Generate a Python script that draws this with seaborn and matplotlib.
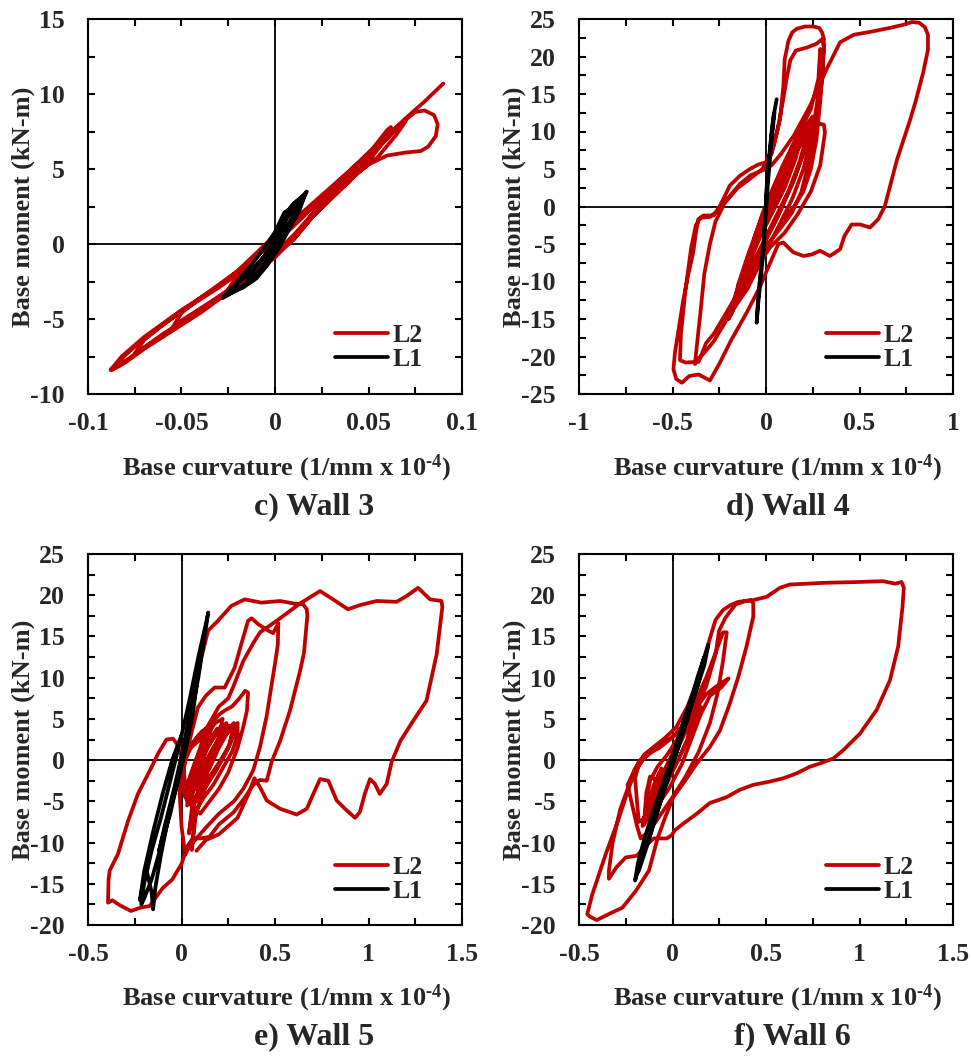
import matplotlib
matplotlib.use("Agg")
import matplotlib.pyplot as plt
import seaborn as sns
from matplotlib.ticker import MultipleLocator, FuncFormatter

# ---------------- data (curvature 1/mm x 1e-4, moment kN-m) ----------------
series_names = ["L2", "L1"]
panel_titles = ["c) Wall 3", "d) Wall 4", "e) Wall 5", "f) Wall 6"]
x_label = r"Base curvature (1/mm x 10$^{\text{-4}}$)"
y_label = "Base moment (kN-m)"

w3_L2 = [(0,0),(0.01,1.2),(0.02,2.4),(0.025,3.0),(0.02,2.0),(0.01,0.6),(0,-0.6),(-0.01,-1.5),(-0.02,-2.5),(-0.025,-3.0),
         (-0.02,-2.1),(-0.01,-0.9),(0,0.4),(0.01,1.3),(0.02,2.5),(0.03,3.6),(0.04,4.7),(0.045,5.2),(0.04,4.2),(0.03,3.0),
         (0.02,1.8),(0.01,0.3),(0,-0.6),(-0.01,-1.5),(-0.02,-2.6),(-0.03,-3.5),(-0.04,-4.3),(-0.05,-5.1),(-0.055,-5.6),
         (-0.05,-4.6),(-0.04,-3.6),(-0.03,-2.8),(-0.02,-1.9),(-0.01,-0.8),(0,0.5),(0.01,1.4),(0.02,2.6),(0.03,3.6),(0.04,4.8),
         (0.05,6.0),(0.055,6.8),(0.06,7.6),(0.062,7.8),(0.058,6.8),(0.05,5.5),(0.04,4.2),(0.03,3.1),(0.02,1.8),(0.01,0.3),
         (0,-0.8),(-0.01,-1.6),(-0.02,-2.7),(-0.03,-3.5),(-0.04,-4.4),(-0.05,-5.2),(-0.06,-6.0),(-0.07,-6.9),(-0.075,-7.3),
         (-0.07,-6.4),(-0.06,-5.4),(-0.05,-4.5),(-0.04,-3.7),(-0.03,-2.9),(-0.02,-2.0),(-0.01,-0.9),(0,0.4),(0.01,1.4),
         (0.02,2.5),(0.03,3.5),(0.04,4.6),(0.05,5.8),(0.06,7.0),(0.068,8.1),(0.07,8.2),(0.065,7.3),(0.055,5.8),(0.045,4.8),
         (0.035,3.8),(0.02,2.0),(0.01,0.4),(0,-0.8),(-0.01,-1.7),(-0.02,-2.8),(-0.03,-3.6),(-0.04,-4.5),(-0.05,-5.3),
         (-0.06,-6.1),(-0.07,-6.9),(-0.08,-7.8),(-0.085,-8.2),(-0.088,-8.4),(-0.082,-7.5),(-0.07,-6.2),(-0.06,-5.3),
         (-0.05,-4.4),(-0.04,-3.6),(-0.03,-2.8),(-0.02,-1.8),(-0.01,-0.7),(0,0.5),(0.01,1.5),(0.02,2.6),(0.03,3.7),
         (0.04,4.9),(0.05,6.1),(0.06,7.3),(0.07,8.3),(0.075,8.8),(0.08,8.9),(0.085,8.6),(0.087,8.0),(0.086,7.2),(0.082,6.5),
         (0.078,6.2),(0.07,6.1),(0.06,5.9),(0.05,5.3),(0.04,4.3),(0.03,3.3),(0.02,2.0),(0.01,0.4),(0,-0.9),(-0.01,-1.8),
         (-0.02,-2.9),(-0.03,-3.7),(-0.04,-4.6),(-0.05,-5.4),(-0.06,-6.2),(-0.07,-7.0),(-0.08,-7.9),(-0.087,-8.4),
         (-0.08,-7.4),(-0.07,-6.3),(-0.06,-5.4),(-0.05,-4.5),(-0.04,-3.6),(-0.03,-2.7),(-0.02,-1.8),(-0.01,-0.6),(0,0.6),
         (0.01,1.6),(0.02,2.7),(0.03,3.8),(0.04,4.9),(0.05,6.0),(0.06,7.2),(0.07,8.4),(0.08,9.5),(0.09,10.7)]

w3_L1 = [(0,0),(0.003,1.0),(0.005,1.9),(0.008,2.3),(0.005,1.3),(0.0,-0.2),(-0.005,-1.2),(-0.01,-2.0),(-0.015,-2.5),
         (-0.01,-1.5),(-0.004,-0.6),(0.0,0.5),(0.004,1.6),(0.008,2.4),(0.012,2.9),(0.015,3.2),(0.012,2.4),(0.008,1.5),
         (0.003,0.4),(-0.003,-0.9),(-0.008,-1.8),(-0.014,-2.6),(-0.02,-3.0),(-0.025,-3.4),(-0.028,-3.6),(-0.022,-2.8),
         (-0.015,-2.1),(-0.008,-1.2),(-0.002,-0.1),(0.002,0.9),(0.005,1.9),(0.01,2.7),(0.014,3.1),(0.017,3.5),(0.014,2.7),
         (0.009,1.7),(0.004,0.5),(-0.002,-0.7),(-0.008,-1.8),(-0.015,-2.6),(-0.022,-3.1),(-0.027,-3.5),(-0.02,-2.6),
         (-0.012,-1.7),(-0.005,-0.7),(0,0.3),(0.004,1.3),(0.009,2.2),(0.013,2.8),(0.016,3.3),(0.013,2.2),(0.008,1.1),
         (0.002,-0.3),(-0.004,-1.4),(-0.01,-2.3),(-0.017,-2.9),(-0.024,-3.3),(-0.019,-2.3),(-0.012,-1.3),(-0.006,-0.3),
         (0,0.8),(0.005,2.1),(0.01,2.5),(0.015,3.0)]

w4_L2 = [(0,0),(0.05,3),(0.1,5.5),(0.13,7),(0.1,4),(0.05,1),(0,-1.5),(-0.05,-4.5),(-0.09,-7),(-0.06,-4),(-0.02,-1),
         (0.03,2),(0.09,5.5),(0.15,8.5),(0.19,10),(0.16,6.5),(0.1,2.5),(0.04,-0.5),(-0.03,-4),(-0.09,-7.5),(-0.14,-10.5),
         (-0.1,-7),(-0.04,-3),(0.03,1.5),(0.1,5.5),(0.17,9),(0.22,11),(0.25,12),(0.21,8),(0.15,3.5),(0.08,0),(0,-4),
         (-0.08,-8.5),(-0.14,-12),(-0.19,-14.5),
         (-0.16,-12.5),(-0.12,-8.5),(-0.06,-4.5),(0.0,-1),(0.07,3),(0.13,6.5),(0.19,9.5),(0.23,10.5),(0.18,6),(0.12,2),
         (0.05,-2),(-0.04,-6),(-0.11,-9.5),(-0.17,-13),
         (-0.13,-9.5),(-0.07,-5.5),(0.0,-2),(0.06,1.5),(0.11,4),(0.16,7),(0.21,9.5),(0.24,11.5),(0.2,7),(0.14,3),
         (0.07,-1),(0.0,-4.5),(-0.07,-8),(-0.13,-11),(-0.18,-14),(-0.2,-15),(-0.16,-11.5),(-0.1,-7.5),(-0.05,-4),
         (0.02,0.5),(0.08,4.5),(0.14,8),(0.2,11),(0.24,13),(0.28,17),(0.29,21),(0.3,20),(0.28,15),(0.25,10),(0.2,5),
         (0.14,1),(0.06,-3),(-0.02,-7),(-0.1,-11),(-0.17,-13.5),
         (-0.15,-10.5),(-0.09,-6),(-0.03,-2),(0.04,2.5),(0.12,6.5),(0.2,10),
         (0.26,11.2),(0.31,10.9),(0.315,9.8),(0.29,5.5),(0.24,2),(0.17,-1),(0.1,-3.5),(0.02,-5.5),(-0.06,-8.5),(-0.14,-12),
         (-0.22,-15.5),(-0.28,-18),(-0.33,-19.5),(-0.37,-20.5),(-0.38,-21),
         (-0.37,-18.6),(-0.35,-14),(-0.33,-9),(-0.3,-5),(-0.27,-2),(-0.22,0.5),(-0.15,2.5),(-0.08,3.8),(-0.02,5),(0.03,7),
         (0.06,10),(0.09,14),(0.11,17),(0.13,19.5),(0.16,20.8),(0.22,21.2),(0.27,21.7),(0.3,22.3),(0.31,21.3),(0.3,17),
         (0.27,11),(0.23,6),(0.19,2),(0.14,-0.8),(0.08,-2.8),(0.01,-5),(-0.07,-8),(-0.15,-11.5),(-0.22,-14.5),(-0.28,-17),
         (-0.32,-18.2),(-0.36,-20.7),(-0.43,-20.8),(-0.46,-20.5),
         (-0.455,-17),(-0.43,-11),(-0.4,-5.5),(-0.375,-2.5),(-0.35,-1.5),(-0.3,-1.4),(-0.26,-0.6),(-0.2,1.2),(-0.14,3),
         (-0.08,4.2),(-0.02,4.8),(0.03,5.5),(0.08,7),(0.15,9.5),(0.235,13.4),(0.324,18.3),(0.396,21.9),
         (0.47,22.9),(0.56,23.3),(0.66,23.8),(0.73,24.2),(0.78,24.6),(0.82,24.5),(0.85,23.9),(0.866,22.9),(0.866,20.9),
         (0.84,17.8),(0.8,14),(0.77,11.5),(0.7,6.2),(0.635,0),(0.6,-1.7),(0.556,-2.8),(0.503,-2.4),(0.458,-2.4),(0.42,-3.9),
         (0.396,-5.7),(0.342,-6.6),(0.289,-5.9),(0.244,-6.4),(0.2,-6.6),(0.146,-6.1),(0.12,-5.5),(0.093,-4.8),(0.066,-5.0),
         (0.04,-6.5),(0,-8.8),(-0.03,-10.6),(-0.1,-14),(-0.19,-18),(-0.25,-21),(-0.3,-23.2),(-0.36,-22.4),(-0.41,-22.6),
         (-0.45,-23.5),(-0.48,-23),(-0.495,-21.7),
         (-0.487,-19.5),(-0.465,-16),(-0.442,-12.4),(-0.415,-9),(-0.389,-6.1),(-0.375,-3.5),(-0.362,-1.7),(-0.335,-1.2),
         (-0.28,-1.2),(-0.246,0.1),(-0.193,2.8),(-0.139,4.1),(-0.086,5.0),(-0.041,5.6),(0,5.9),(0.04,8.1),(0.075,11.6),
         (0.093,16.1),(0.1,19.6),(0.12,22.1),(0.14,23.2),(0.164,23.7),(0.21,24.0),(0.253,24.0),(0.285,23.8),(0.3,23.2),
         (0.31,22.3),(0.305,19),(0.29,14),(0.27,9),(0.24,5),(0.2,2),(0.15,0),(0.1,-1.5)]

w4_L1 = [(0,0),(0.004,2.8),(0.012,5.5),(0.021,7.2),(0.03,9.5),(0.039,11.6),(0.045,12.5),(0.035,10),(0.022,6.5),(0.01,3),
         (0.0,-0.5),(-0.008,-3.5),(-0.014,-6.1),(-0.024,-8.5),(-0.032,-10.6),(-0.042,-13),(-0.05,-15.5),(-0.044,-13),
         (-0.036,-10.5),(-0.026,-8),(-0.016,-5.5),(-0.006,-2),(0.002,1.5),(0.01,4.5),(0.02,7.5),(0.03,10),(0.04,12),
         (0.049,13.2),(0.057,14.3)]

w5_L2 = [(0,0),(0.04,1.5),(0.09,3),(0.13,3.8),(0.1,1.5),(0.06,-1),(0.03,-3),(0.02,-4.5),(0.05,-2.5),(0.1,0),(0.15,2),
         (0.19,3.5),(0.22,4.3),(0.19,2),(0.14,-0.5),(0.09,-2.5),(0.05,-4),(0.04,-5),(0.07,-3),(0.12,-0.5),(0.17,1.5),
         (0.22,3),(0.26,4),(0.28,4.5),(0.26,2),(0.21,0),(0.15,-2),(0.1,-3.5),(0.06,-5),(0.05,-7),(0.04,-8.9),(0.06,-6),
         (0.1,-3),(0.15,-1),(0.2,1.5),(0.25,3.5),(0.3,4.5),(0.3,3),(0.27,1),(0.22,-1),(0.17,-3),(0.12,-4.5),(0.08,-6),
         (0.055,-10.9),(0.07,-7),(0.1,-5),(0.14,-2.5),(0.12,0.5),(0.15,2.5),(0.16,4.5),(0.2,5.5),(0.23,6),(0.27,6.5),
         (0.31,7.5),(0.34,8.4),(0.356,8.2),(0.35,6),(0.33,4),(0.3,1.5),(0.25,-1.5),(0.2,-3.5),(0.15,-5),(0.1,-6.5),
         (0.03,-5),(0.0,-3),(0.02,0),
         (0.06,2),(0.11,3.5),(0.16,4.2),(0.13,1.8),(0.08,-0.8),(0.04,-2.8),(0.03,-4),(0.07,-1.5),(0.12,1),(0.18,3),
         (0.24,4.5),(0.21,2.5),(0.16,0),(0.11,-2),(0.07,-3.5),(0.09,-1),(0.14,1.5),(0.2,3.8),(0.25,4.2),(0.29,3.5),
         (0.24,1),(0.18,-1.5),(0.13,-3),(0.1,-4.5),(0.06,-2),
         (0.03,-3.5),(0.08,0),(0.13,2.8),(0.18,4.5),(0.22,5),(0.2,2.8),(0.15,0.5),(0.1,-2),(0.06,-4),(0.03,-5.5),
         (0.05,-3),(0.09,-0.5),(0.14,2),(0.19,3.8),(0.24,3.2),(0.28,3.9),(0.25,1.5),(0.2,-0.5),(0.15,-2.5),(0.11,-4),
         (0.08,-5),(0.02,-3),(0.01,-1),
         (0.05,3),(0.088,6.4),(0.13,7.8),(0.177,8.8),(0.231,8.8),(0.284,11.2),(0.32,14.1),(0.356,16.9),(0.375,17.2),
         (0.41,16.5),(0.455,15.8),(0.49,15.4),(0.518,16.6),(0.515,14),(0.5,11.7),(0.455,5.3),(0.42,1.6),(0.384,-1.2),
         (0.366,-2.0),(0.33,-3.5),(0.28,-5),(0.2,-6.5),(0.13,-8.2),(0.08,-9.5),(0.04,-10.5),(0.02,-11.5),
         (0.0,-8),(-0.01,-4),(0.0,0),(0.035,4.8),(0.088,10.8),(0.142,15.7),(0.195,16.9),(0.266,18.7),(0.338,19.5),
         (0.427,19.1),(0.527,19.3),(0.6,19.0),(0.65,18.9),(0.67,18.3),(0.673,17.5),(0.655,13),(0.634,10.8),(0.58,6.0),
         (0.527,2.3),(0.482,-0.2),(0.456,-2.5),(0.42,-2.4),(0.384,-3),(0.34,-4.5),(0.28,-6.3),(0.2,-7.8),(0.15,-9.3),
         (0.1,-9.5),(0.06,-9.5),(0.03,-10.5),(0.0,-12.6),(-0.05,-14.5),(-0.1,-15.5),(-0.17,-17.7),(-0.22,-17.9),
         (-0.27,-18.3),(-0.33,-17.6),(-0.37,-17.0),(-0.393,-17.3),
         (-0.39,-14.5),(-0.384,-13.4),(-0.34,-11.4),(-0.286,-7.4),(-0.233,-4.1),(-0.161,-0.9),(-0.125,0.8),(-0.08,2.5),
         (-0.045,2.6),(-0.026,2.0),(0.0,0.5),(0.05,1.5),(0.1,2.5),(0.15,4.5),(0.2,6.5),(0.25,7.5),(0.277,8.9),(0.33,12),
         (0.384,14.2),(0.42,15.5),(0.509,16.9),(0.634,19.0),(0.741,20.5),(0.81,19.5),(0.89,18.3),(0.954,18.8),
         (1.044,19.3),(1.15,19.2),(1.204,19.9),(1.265,20.9),(1.329,19.5),(1.39,19.3),(1.395,18.6),(1.365,12.9),
         (1.31,7.2),(1.24,4.8),(1.17,2.3),(1.124,-0.2),(1.097,-2.9),(1.06,-4.1),(1.035,-2.9),(1.008,-2.3),(0.98,-4.1),
         (0.954,-6.3),(0.928,-7.0),(0.874,-5.9),(0.83,-4.9),(0.785,-2.5),(0.741,-2.3),(0.705,-4.1),(0.67,-5.9),
         (0.616,-6.6),(0.527,-5.9),(0.456,-4.9),(0.42,-3.3),(0.39,-2.2),(0.36,-4),(0.3,-7),(0.2,-9),(0.13,-9.7),(0.08,-11)]

w5_L1 = [(0,0),(0.04,4.5),(0.08,9),(0.06,5.5),(0.02,1),(-0.03,-3.5),(-0.08,-7.5),(-0.12,-11),(-0.09,-8),(-0.04,-3.5),
         (0.01,1.5),(0.06,7),(0.1,12),(0.12,14.5),(0.09,10),(0.04,4),(-0.01,-1.5),(-0.06,-6.5),(-0.11,-10.5),
         (-0.16,-14.5),(-0.2,-16.8),(-0.215,-17.5),(-0.2,-15),(-0.16,-11),(-0.11,-7),(-0.06,-2.5),(-0.01,2),(0.04,7),
         (0.09,12.5),(0.13,16.5),(0.143,17.9),(0.12,14.5),(0.08,9.5),(0.03,3.5),(-0.02,-2),(-0.07,-7),(-0.11,-11.5),
         (-0.14,-15.5),(-0.152,-18.1),(-0.16,-16),(-0.185,-13.5),(-0.205,-15),(-0.222,-17),(-0.2,-13.5),(-0.15,-8.5),
         (-0.1,-4),(-0.05,0),(0,3)]

w6_L2 = [(0,0),(0.05,2.5),(0.1,5),(0.08,2.5),(0.03,0),(-0.03,-2.5),
         (-0.06,-1),(-0.1,-3.5),(-0.14,-6),(-0.16,-8),(-0.13,-5.5),(-0.1,-3),(-0.07,-1.5),(-0.1,-4),(-0.15,-7),
         (-0.14,-4),(-0.12,-2),(-0.08,-2.5),(-0.12,-5),(-0.16,-7.5),(-0.12,-6),(-0.08,-4),(-0.05,-2),
         (-0.08,-4.5),(-0.12,-6.5),(-0.09,-4),(-0.05,-1.5),
         (0,0.8),(0.06,3.5),(0.12,5.5),(0.15,6.5),(0.1,3.5),(0.04,0.5),(-0.03,-2.8),(-0.1,-5.5),(-0.15,-7.8),(-0.14,-5),
         (-0.12,-2.5),(-0.08,-0.8),(-0.03,0.6),(0.03,2.7),(0.1,5.5),(0.18,8),(0.25,9.2),(0.3,9.9),(0.26,8.8),(0.2,7.8),
         (0.15,5.5),(0.1,2.5),(0.05,-0.5),(-0.02,-3.5),(-0.08,-5.5),(-0.13,-6.8),(-0.18,-7.5),(-0.19,-5),(-0.2,-2.2),
         (-0.18,-0.5),(-0.13,0.8),(-0.07,1.5),(-0.02,2.4),(0.03,3.3),(0.08,5),(0.13,7.5),(0.18,10),(0.23,13),(0.27,15.5),
         (0.29,15.5),(0.27,12),(0.24,8),(0.2,4.5),(0.14,1),(0.07,-2),(0.0,-4.5),(-0.06,-6.5),(-0.12,-8.5),(-0.17,-9.5),
         (-0.19,-8),(-0.22,-5),(-0.24,-3),(-0.2,-1),(-0.15,0.7),(-0.09,1.8),(-0.04,2.7),(0.02,4),(0.08,6.5),(0.14,10),
         (0.19,14),(0.23,17),(0.27,18.2),(0.31,18.8),(0.352,19.2),(0.42,19.4),(0.432,19),(0.432,17.4),(0.396,13.8),
         (0.352,10.1),(0.307,6.9),(0.254,3.6),(0.2,1.6),(0.13,-0.4),(0.058,-2.8),(0.004,-4.5),(-0.04,-7),(-0.08,-9.5),
         (-0.126,-13.4),(-0.197,-15.9),(-0.268,-17.9),(-0.334,-18.6),(-0.405,-19.4),(-0.44,-19.0),(-0.456,-18.7),
         (-0.429,-16.3),(-0.357,-11.4),(-0.286,-7.0),(-0.233,-3.3),(-0.179,-0.1),(-0.126,0.7),(-0.072,1.7),(-0.019,2.5),
         (0.017,3.2),(0.088,5.2),(0.178,8.8),(0.231,12.9),(0.249,15.7),(0.284,17.3),(0.338,18.9),(0.391,19.3),(0.43,19.4),
         (0.503,19.8),(0.575,20.9),(0.628,21.3),(0.806,21.5),(0.985,21.6),(1.127,21.7),(1.19,21.4),(1.225,21.6),
         (1.237,20.9),(1.23,18.6),(1.207,13.8),(1.163,9.7),(1.092,6.1),(1.002,3.2),(0.913,1.2),(0.86,0.2),(0.789,-0.4),
         (0.735,-0.8),(0.664,-1.6),(0.593,-2.2),(0.521,-2.6),(0.432,-3.0),(0.36,-3.6),(0.289,-4.5),(0.2,-5.2),(0.13,-6.5),
         (0.058,-7.7),(0.013,-8.5),(-0.004,-9.1),(-0.03,-9.5),(-0.1,-9.5),(-0.15,-10.5),(-0.19,-11.6),(-0.25,-11.8),
         (-0.3,-13.0),(-0.34,-14.4),(-0.34,-13.4),(-0.32,-10),(-0.28,-6),(-0.24,-3.5),(-0.2,-1.5),(-0.16,0),(-0.12,1),
         (-0.06,1.8)]

w6_L1 = [(0,0),(0.05,3.5),(0.1,7),(0.08,5),(0.03,1.5),(-0.03,-2.5),(-0.08,-6),(-0.12,-8.5),(-0.09,-6),(-0.04,-2.5),
         (0.01,1),(0.06,4.8),(0.11,8),(0.15,11),(0.17,12.5),(0.14,9.5),(0.09,5.8),(0.04,2.2),(-0.02,-2),(-0.07,-5.5),
         (-0.12,-9),(-0.16,-11.5),(-0.2,-14.6),(-0.185,-12.5),(-0.15,-9.5),(-0.1,-6),(-0.05,-2.8),(0.0,0.5),(0.05,4),
         (0.1,7.5),(0.14,10.5),(0.17,12.5),(0.192,14.0),(0.17,11.5),(0.12,8),(0.07,4.5),(0.02,1),(-0.03,-2.5),
         (-0.08,-6.2),(-0.13,-10),(-0.18,-13.4),(-0.19,-13.8)]

x_limits = [(-0.1, 0.1), (-1, 1), (-0.5, 1.5), (-0.5, 1.5)]
y_limits = [(-10, 15), (-25, 25), (-20, 25), (-20, 25)]
x_steps = [0.05, 0.5, 0.5, 0.5]
y_steps = [5, 5, 5, 5]

# ---------------- style ----------------
sns.set_theme(style="ticks")
plt.rcParams.update({
    "font.family": ["Liberation Serif", "DejaVu Serif"],
    "font.weight": "bold",
    "axes.labelweight": "bold",
    "mathtext.fontset": "custom",
    "mathtext.rm": "Liberation Serif:bold",
    "mathtext.bf": "Liberation Serif:bold",
    "mathtext.it": "Liberation Serif:bold",
    "axes.unicode_minus": False,
})

RED = "#C00000"
BLACK = "#000000"
W, H = 971, 1059
boxes = [(88, 19, 462, 394), (579, 19, 953, 394), (88, 554, 462, 925), (579, 554, 953, 925)]
title_xfrac = [0.604, 0.559, 0.604, 0.570]

fig = plt.figure(figsize=(W / 100, H / 100), dpi=100)
fig.patch.set_facecolor("white")

curves = [(w3_L2, w3_L1), (w4_L2, w4_L1), (w5_L2, w5_L1), (w6_L2, w6_L1)]
fmt = FuncFormatter(lambda v, p: "0" if abs(v) < 1e-9 else f"{v:g}")

for i, (l, t, r, b) in enumerate(boxes):
    ax = fig.add_axes([l / W, 1 - b / H, (r - l) / W, (b - t) / H])
    ax.set_facecolor("white")
    ax.axhline(0, color="black", lw=1.3, zorder=1)
    ax.axvline(0, color="black", lw=1.3, zorder=1)
    for data, color, name in zip(curves[i], [RED, BLACK], series_names):
        xs = [p[0] for p in data]
        ys = [p[1] for p in data]
        sns.lineplot(x=xs, y=ys, sort=False, estimator=None, color=color, linewidth=2.7,
                     ax=ax, label=name, zorder=3)
    ax.set_xlim(*x_limits[i])
    ax.set_ylim(*y_limits[i])
    ax.xaxis.set_major_locator(MultipleLocator(x_steps[i]))
    ax.xaxis.set_minor_locator(MultipleLocator(x_steps[i] / 2))
    ax.yaxis.set_major_locator(MultipleLocator(y_steps[i]))
    ax.yaxis.set_minor_locator(MultipleLocator(y_steps[i] / 2))
    ax.xaxis.set_major_formatter(fmt)
    ax.yaxis.set_major_formatter(fmt)
    ax.tick_params(which="both", direction="in", top=True, right=True, length=5, width=1.5, color="black")
    ax.tick_params(axis="x", which="major", labelsize=18.5, pad=13)
    ax.tick_params(axis="y", which="major", labelsize=18.5, pad=17)
    for lab in ax.get_xticklabels() + ax.get_yticklabels():
        lab.set_fontweight("bold")
    for sp in ax.spines.values():
        sp.set_linewidth(1.5)
        sp.set_color("black")
    ax.set_xlabel(x_label, fontsize=19, fontweight="bold")
    ax.set_ylabel(y_label, fontsize=19, fontweight="bold")
    ax.xaxis.set_label_coords(0.532, -0.197)
    ax.xaxis.label.set_va("center")
    ax.yaxis.set_label_coords(-0.173, 0.5)
    ax.yaxis.label.set_va("center")
    ax.text(title_xfrac[i], -0.30, panel_titles[i], transform=ax.transAxes, ha="center", va="center",
            fontsize=23, fontweight="bold")
    h, lb = ax.get_legend_handles_labels()
    ax.legend(h, lb, loc="upper left", bbox_to_anchor=(0.66, 0.187), frameon=False,
              handlelength=2.06, handletextpad=0.2, labelspacing=0.05, borderpad=0, borderaxespad=0,
              prop={"weight": "bold", "size": 18.5})

fig.savefig("out.png", dpi=100)
